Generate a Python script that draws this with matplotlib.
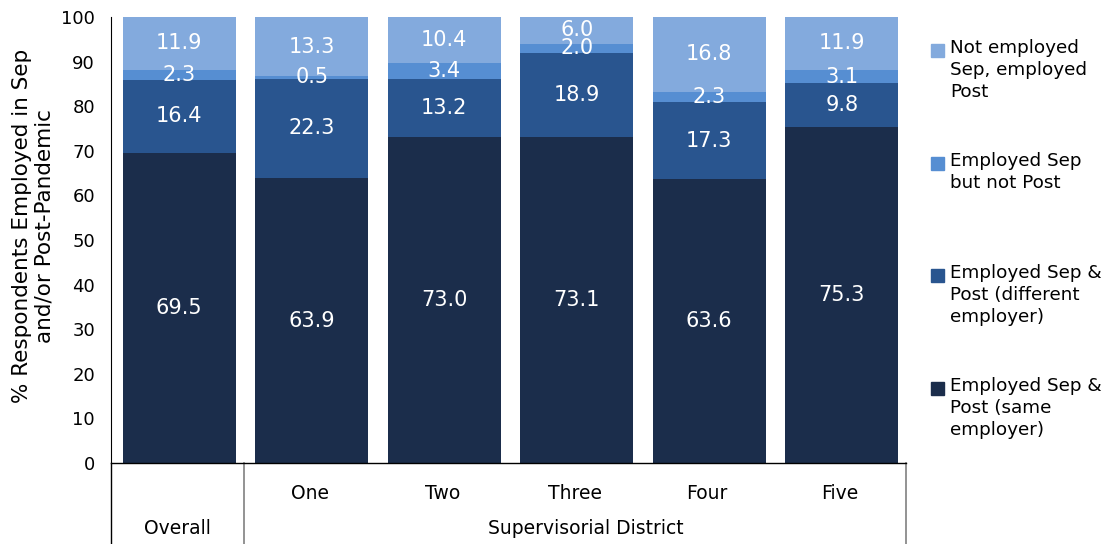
import numpy as np
import matplotlib.pyplot as plt

# Data
groups = ['Overall', 'One', 'Two', 'Three', 'Four', 'Five']
same_employer = [69.5, 63.9, 73.0, 73.1, 63.6, 75.3]
diff_employer = [16.4, 22.3, 13.2, 18.9, 17.3, 9.8]
sep_not_post = [2.3, 0.5, 3.4, 2.0, 2.3, 3.1]
post_not_sep = [11.9, 13.3, 10.4, 6.0, 16.8, 11.9]

series = [same_employer, diff_employer, sep_not_post, post_not_sep]
labels = ['Employed Sep &\nPost (same\nemployer)',
          'Employed Sep &\nPost (different\nemployer)',
          'Employed Sep\nbut not Post',
          'Not employed\nSep, employed\nPost']
colors = ['#1B2D4B', '#29558F', '#568ED2', '#83AADD']

plt.rcParams['font.family'] = 'DejaVu Sans'

fig = plt.figure(figsize=(11.08, 5.44), dpi=100)
ax = fig.add_axes([111/1108, 81/544, 795/1108, 446/544])

x = np.arange(len(groups))
bottom = np.zeros(len(groups))
for vals, c in zip(series, colors):
    vals = np.array(vals)
    ax.bar(x + 0.015, vals, 0.85, bottom=bottom, color=c)
    for xi, b, v in zip(x, bottom, vals):
        ax.text(xi + 0.015, b + v / 2, f'{v:.1f}', ha='center', va='center',
                color='white', fontsize=15)
    bottom += vals

ax.set_xlim(-0.5, len(groups) - 0.5)
ax.set_ylim(0, 100)
ax.set_yticks(range(0, 101, 10))
ax.tick_params(axis='y', length=0, pad=11.5, labelsize=13)
ax.spines['top'].set_visible(False)
ax.spines['right'].set_visible(False)
ax.spines['bottom'].set_linewidth(1.0)
ax.set_ylabel('% Respondents Employed in Sep\nand/or Post-Pandemic', fontsize=15.5,
              linespacing=1.15)
ax.yaxis.set_label_coords(-0.071, 0.531)

# category table underneath
ax.set_xticks(x)
ax.set_xticklabels([''] + groups[1:], fontsize=13.5)
ax.tick_params(axis='x', length=0, pad=15)
tr = ax.get_xaxis_transform()
ax.plot([-0.5, -0.5], [0, -0.182], color='black', lw=1, transform=tr, clip_on=False)
ax.plot([0.5, 0.5], [0, -0.182], color='grey', lw=1.2, transform=tr, clip_on=False)
ax.plot([5.5, 5.5], [0, -0.182], color='grey', lw=1.2, transform=tr, clip_on=False)
ax.text(0, -0.146, 'Overall', ha='center', va='center', fontsize=13.5, transform=tr)
ax.text(3.08, -0.146, 'Supervisorial District', ha='center', va='center', fontsize=13.5,
        transform=tr)

# legend on the right
ys = [50, 163, 275, 388]
for yy, lab, c in zip(ys, labels[::-1], colors[::-1]):
    fig.patches.append(plt.Rectangle((931/1108, 1 - (yy + 7)/544), 13/1108, 13/544,
                                     color=c, transform=fig.transFigure))
    fig.text(950/1108, 1 - (yy - 11)/544, lab, ha='left', va='top', fontsize=13.2,
             linespacing=1.28)

fig.savefig('out.png', dpi=100)
